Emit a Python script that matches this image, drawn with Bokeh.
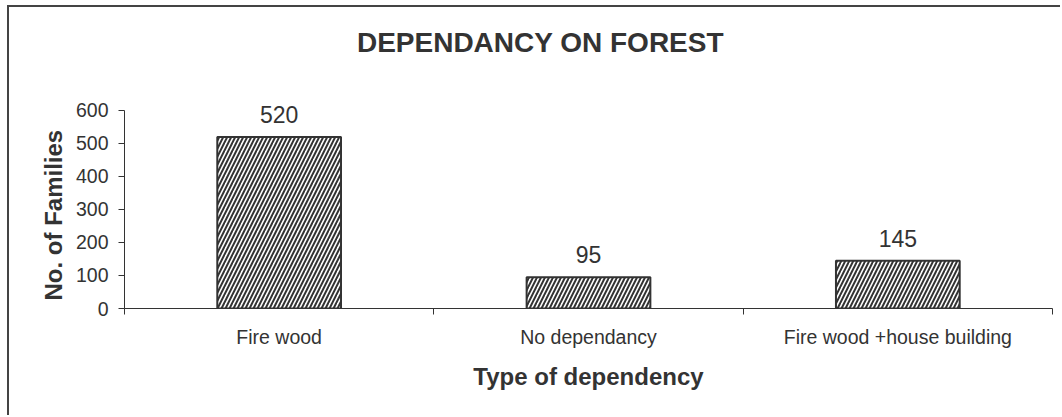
from bokeh.plotting import figure
from bokeh.models import Range1d, FixedTicker, ColumnDataSource, LabelSet, Label, Title
from bokeh.core.properties import value
from bokeh.embed import file_html
from bokeh.resources import INLINE

categories = ["Fire wood", "No dependancy", "Fire wood +house building"]
families = [520, 95, 145]
y_ticks = [0, 100, 200, 300, 400, 500, 600]
title_text = "DEPENDANCY ON FOREST"
y_title = "No. of Families"
x_title = "Type of dependency"

FONT = "Liberation Sans"
TXT = "#333333"

xs = [i + 0.5 for i in range(len(categories))]
src = ColumnDataSource(dict(x=xs, y=families, lbl=[str(v) for v in families]))

# frame spans nearly the whole chart height so that the labels are never clipped;
# the visible axis is bounded to 0-600
p = figure(width=1053, height=410, output_backend="svg", toolbar_location=None,
           x_range=Range1d(0, len(categories)), y_range=Range1d(0, 903),
           min_border_left=115, min_border_right=10, min_border_top=3, min_border_bottom=109)
p.outline_line_color = None
p.grid.visible = False
p.styles = {"margin-left": "7px", "margin-top": "5px",
            "border-left": "2px solid #444444", "border-top": "2px solid #444444"}

title = Label(x=416, y=266, x_units="screen", y_units="screen", text=title_text,
              text_align="center", text_baseline="middle", text_font=FONT,
              text_font_size="28px", text_font_style="bold", text_color=TXT)
p.add_layout(title)

p.vbar(x="x", top="y", width=0.4, bottom=0, source=src, fill_color="white",
       line_color="#333333", line_width=2, hatch_pattern="/", hatch_color="#333333",
       hatch_scale=8, hatch_weight=2)

labels = LabelSet(x="x", y="y", text="lbl", source=src, text_align="center",
                  text_baseline="alphabetic", y_offset=14, text_font=value(FONT),
                  text_font_size=value("23px"), text_color=TXT)
p.add_layout(labels)

xa = p.xaxis[0]
xa.ticker = FixedTicker(ticks=xs, minor_ticks=list(range(len(categories) + 1)))
xa.major_label_overrides = {x: c for x, c in zip(xs, categories)}
xa.major_tick_in = 0
xa.major_tick_out = 0
xa.minor_tick_in = 0
xa.minor_tick_out = 6
xa.minor_tick_line_color = "#333333"
xa.major_label_standoff = 11
xa.axis_label = x_title
xa.axis_label_standoff = 12

ya = p.yaxis[0]
ya.ticker = FixedTicker(ticks=y_ticks, minor_ticks=[])
ya.bounds = (0, 600)
ya.major_tick_in = 0
ya.major_tick_out = 6
ya.major_label_standoff = 10

ytitle = Title(text=y_title, align="left", offset=8, standoff=12, text_font=FONT,
               text_font_size="24px", text_font_style="bold", text_color=TXT)
p.add_layout(ytitle, "left")

for ax in (xa, ya):
    ax.axis_line_color = "#333333"
    ax.major_tick_line_color = "#333333"
    ax.major_label_text_font = FONT
    ax.major_label_text_font_size = "19.5px"
    ax.major_label_text_color = TXT
    ax.axis_label_text_font = FONT
    ax.axis_label_text_font_size = "24px"
    ax.axis_label_text_font_style = "bold"
    ax.axis_label_text_color = TXT

open("out.html", "w").write(file_html(p, INLINE))
